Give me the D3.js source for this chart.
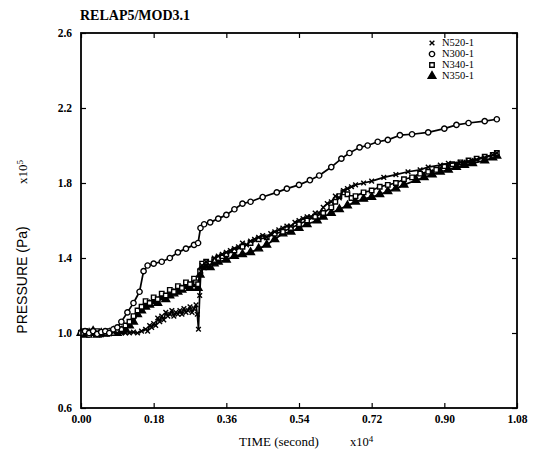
<!DOCTYPE html>
<html>
<head>
<meta charset="utf-8">
<script src="https://cdn.jsdelivr.net/npm/d3@7"></script>
<style>
  html, body { margin: 0; padding: 0; background: #fff; }
  svg { display: block; }
  text { fill: #000; }
</style>
</head>
<body>
<svg id="chart" width="533" height="466"></svg>
<script>
// Time in units of 1e4 s, pressure in units of 1e5 Pa
const xTicks = [0.00, 0.18, 0.36, 0.54, 0.72, 0.90, 1.08];
const yTicks = [0.6, 1.0, 1.4, 1.8, 2.2, 2.6];
const seriesNames = ["N520-1", "N300-1", "N340-1", "N350-1"];

const n520 = [
  [0,1.005],[0.01,0.995],[0.02,1.01],[0.03,0.995],[0.04,1.005],[0.05,0.99],[0.06,1.00],[0.07,0.995],
  [0.08,1.005],[0.09,1.00],[0.10,1.00],[0.11,1.00],[0.12,1.00],[0.13,1.005],[0.14,1.00],[0.15,1.01],
  [0.16,1.02],[0.165,1.01],[0.17,1.04],[0.175,1.03],[0.18,1.05],[0.185,1.04],[0.19,1.08],[0.195,1.06],
  [0.20,1.09],[0.205,1.07],[0.21,1.11],[0.215,1.09],[0.22,1.10],[0.225,1.12],[0.23,1.09],[0.235,1.11],
  [0.24,1.10],[0.245,1.12],[0.25,1.10],[0.255,1.13],[0.26,1.11],[0.265,1.12],[0.27,1.14],[0.275,1.11],
  [0.28,1.13],[0.285,1.15],[0.288,1.10],[0.291,1.02],[0.294,1.20],[0.297,1.33],[0.30,1.36],[0.31,1.38],
  [0.32,1.36],[0.33,1.40],[0.34,1.41],[0.35,1.42],[0.36,1.43],[0.37,1.44],[0.38,1.45],[0.39,1.46],
  [0.40,1.48],[0.41,1.47],[0.42,1.49],[0.43,1.50],[0.44,1.51],[0.45,1.52],[0.46,1.51],[0.47,1.53],
  [0.48,1.54],[0.49,1.55],[0.50,1.56],[0.51,1.57],[0.52,1.57],[0.53,1.59],[0.54,1.60],[0.55,1.61],
  [0.56,1.62],[0.57,1.62],[0.58,1.64],[0.59,1.64],[0.60,1.67],[0.61,1.69],[0.62,1.70],[0.63,1.73],
  [0.64,1.72],[0.65,1.76],[0.66,1.77],[0.67,1.78],[0.68,1.79],[0.70,1.80],[0.72,1.81],[0.75,1.83],
  [0.78,1.845],[0.81,1.86],[0.84,1.87],[0.86,1.885],[0.89,1.895],[0.91,1.905],[0.94,1.91],[0.96,1.915],
  [0.98,1.925],[1.00,1.935],[1.02,1.95],[1.03,1.96]
];

const n300 = [
  [0,1.00],[0.01,1.01],[0.02,1.00],[0.03,1.01],[0.04,0.995],[0.05,1.005],[0.06,1.01],[0.07,1.00],
  [0.08,1.02],[0.09,1.03],[0.10,1.06],[0.115,1.11],[0.13,1.16],[0.145,1.22],[0.155,1.33],[0.165,1.36],
  [0.18,1.37],[0.20,1.38],[0.22,1.40],[0.24,1.43],[0.26,1.45],[0.28,1.47],[0.29,1.48],[0.296,1.56],
  [0.305,1.58],[0.32,1.59],[0.34,1.61],[0.36,1.63],[0.38,1.66],[0.40,1.69],[0.42,1.70],[0.45,1.725],
  [0.485,1.75],[0.51,1.77],[0.54,1.79],[0.567,1.815],[0.59,1.84],[0.62,1.885],[0.645,1.93],[0.665,1.96],
  [0.69,1.99],[0.71,2.00],[0.735,2.02],[0.76,2.03],[0.79,2.055],[0.82,2.06],[0.86,2.07],[0.90,2.09],
  [0.93,2.11],[0.96,2.12],[1.00,2.13],[1.03,2.14]
];

const n340 = [
  [0,1.00],[0.01,1.01],[0.02,0.99],[0.03,1.00],[0.04,1.01],[0.05,0.995],[0.06,1.00],[0.07,1.01],
  [0.08,1.00],[0.09,1.01],[0.10,1.02],[0.11,1.04],[0.12,1.06],[0.13,1.09],[0.14,1.12],[0.15,1.14],
  [0.16,1.17],[0.17,1.16],[0.18,1.19],[0.19,1.18],[0.20,1.21],[0.21,1.20],[0.22,1.23],[0.23,1.22],
  [0.24,1.25],[0.25,1.24],[0.26,1.27],[0.27,1.26],[0.28,1.29],[0.285,1.27],[0.29,1.26],[0.295,1.33],
  [0.30,1.37],[0.31,1.38],[0.32,1.37],[0.33,1.39],[0.34,1.40],[0.35,1.41],[0.36,1.42],[0.38,1.44],
  [0.40,1.46],[0.42,1.48],[0.44,1.50],[0.46,1.51],[0.48,1.53],[0.50,1.54],[0.52,1.56],[0.54,1.58],
  [0.56,1.60],[0.58,1.62],[0.60,1.64],[0.62,1.67],[0.63,1.70],[0.64,1.73],[0.65,1.75],[0.66,1.74],
  [0.67,1.72],[0.68,1.73],[0.70,1.75],[0.72,1.76],[0.74,1.78],[0.76,1.79],[0.78,1.80],[0.80,1.82],
  [0.82,1.83],[0.84,1.85],[0.86,1.86],[0.88,1.87],[0.90,1.89],[0.92,1.90],[0.94,1.91],[0.96,1.92],
  [0.98,1.93],[1.00,1.94],[1.02,1.95],[1.03,1.96]
];

const n350 = [
  [0,1.00],[0.01,0.99],[0.02,1.00],[0.03,1.01],[0.04,0.99],[0.05,1.00],[0.06,0.995],[0.07,1.00],
  [0.08,1.01],[0.09,1.00],[0.10,1.01],[0.11,1.02],[0.12,1.04],[0.13,1.06],[0.14,1.10],[0.15,1.12],
  [0.16,1.14],[0.17,1.15],[0.18,1.17],[0.19,1.16],[0.20,1.19],[0.21,1.18],[0.22,1.20],[0.23,1.21],
  [0.24,1.22],[0.25,1.23],[0.26,1.25],[0.27,1.24],[0.28,1.27],[0.285,1.26],[0.29,1.24],[0.295,1.31],
  [0.30,1.35],[0.31,1.36],[0.32,1.35],[0.33,1.37],[0.34,1.38],[0.36,1.39],[0.38,1.41],[0.40,1.42],
  [0.42,1.43],[0.44,1.45],[0.46,1.47],[0.48,1.50],[0.50,1.53],[0.52,1.54],[0.54,1.56],[0.56,1.58],
  [0.585,1.60],[0.60,1.62],[0.62,1.64],[0.64,1.66],[0.66,1.68],[0.68,1.70],[0.70,1.715],[0.72,1.725],
  [0.74,1.74],[0.76,1.755],[0.78,1.77],[0.80,1.79],[0.83,1.815],[0.85,1.83],[0.87,1.845],[0.89,1.86],
  [0.91,1.87],[0.93,1.885],[0.95,1.895],[0.97,1.905],[1.00,1.92],[1.02,1.935],[1.03,1.945]
];

const svg = d3.select("#chart");
const margin = { left: 81, right: 16, top: 33, bottom: 58 };
const W = 533, H = 466;
const x = d3.scaleLinear().domain([0, 1.08]).range([margin.left, W - margin.right]);
const y = d3.scaleLinear().domain([0.6, 2.6]).range([H - margin.bottom, margin.top]);

const serif = "'Liberation Serif', 'Times New Roman', serif";
const sans = "'Liberation Sans', Arial, sans-serif";

// × marker as a custom symbol type
const symbolX = {
  draw(ctx, size) {
    const r = Math.sqrt(size) / 2;
    ctx.moveTo(-r, -r); ctx.lineTo(r, r);
    ctx.moveTo(r, -r); ctx.lineTo(-r, r);
  }
};

const styles = {
  "N520-1": { data: n520, type: symbolX, size: 22, fill: "none" },
  "N300-1": { data: n300, type: d3.symbolCircle, size: 22, fill: "#fff" },
  "N340-1": { data: n340, type: d3.symbolSquare, size: 20, fill: "#fff" },
  "N350-1": { data: n350, type: d3.symbolTriangle, size: 26, fill: "#000" }
};

// Axes: inward ticks on all four sides
const xAxisB = d3.axisBottom(x).tickValues(xTicks).tickFormat(d3.format(".2f"))
  .tickSizeInner(-5).tickSizeOuter(0).tickPadding(7);
const xAxisT = d3.axisTop(x).tickValues(xTicks).tickFormat("")
  .tickSizeInner(-5).tickSizeOuter(0);
const yAxisL = d3.axisLeft(y).tickValues(yTicks).tickFormat(d3.format(".1f"))
  .tickSizeInner(-5).tickSizeOuter(0).tickPadding(9);
const yAxisR = d3.axisRight(y).tickValues(yTicks).tickFormat("")
  .tickSizeInner(-5).tickSizeOuter(0);

function styleAxis(g) {
  g.select(".domain").remove();
  g.selectAll(".tick line").attr("stroke", "#000").attr("stroke-width", 1.2);
  g.selectAll(".tick text").attr("font-family", serif).attr("font-size", 11.5)
    .attr("font-weight", "bold").attr("fill", "#000");
}

svg.append("g").attr("transform", `translate(0,${y(0.6)})`).call(xAxisB).call(styleAxis);
svg.append("g").attr("transform", `translate(0,${y(2.6)})`).call(xAxisT).call(styleAxis);
svg.append("g").attr("transform", `translate(${x(0)},0)`).call(yAxisL).call(styleAxis);
svg.append("g").attr("transform", `translate(${x(1.08)},0)`).call(yAxisR).call(styleAxis);

// Curves
const line = d3.line().x(d => x(d[0])).y(d => y(d[1]));
const drawOrder = ["N350-1", "N340-1", "N520-1", "N300-1"];
drawOrder.forEach(name => {
  const s = styles[name];
  svg.append("path").datum(s.data).attr("d", line)
    .attr("fill", "none").attr("stroke", "#000").attr("stroke-width", 1.7)
    .attr("stroke-linejoin", "round");
  svg.append("g").selectAll("path").data(s.data).join("path")
    .attr("transform", d => `translate(${x(d[0])},${y(d[1])})`)
    .attr("d", d3.symbol().type(s.type).size(s.size))
    .attr("fill", s.fill).attr("stroke", "#000").attr("stroke-width", 1.4);
});

// Frame
svg.append("rect")
  .attr("x", x(0)).attr("y", y(2.6))
  .attr("width", x(1.08) - x(0)).attr("height", y(0.6) - y(2.6))
  .attr("fill", "none").attr("stroke", "#000").attr("stroke-width", 1.8);

// Legend
const legend = svg.append("g");
seriesNames.forEach((name, i) => {
  const s = styles[name];
  const ly = 43 + i * 11;
  legend.append("path")
    .attr("transform", `translate(432,${ly})`)
    .attr("d", d3.symbol().type(s.type).size(s.size))
    .attr("fill", s.fill).attr("stroke", "#000").attr("stroke-width", 1.4);
  legend.append("text").attr("x", 442).attr("y", ly).attr("dy", "0.33em")
    .attr("font-family", serif).attr("font-size", 10.5).text(name);
});

// Title
svg.append("text").attr("x", 80).attr("y", 20)
  .attr("font-family", serif).attr("font-size", 14).attr("font-weight", "bold")
  .text("RELAP5/MOD3.1");

// Axis titles
svg.append("text").attr("transform", "translate(27,280) rotate(-90)")
  .attr("text-anchor", "middle").attr("font-family", sans).attr("font-size", 14)
  .text("PRESSURE (Pa)");
const yMul = svg.append("text").attr("transform", "translate(27,172) rotate(-90)")
  .attr("text-anchor", "middle").attr("font-family", serif).attr("font-size", 13);
yMul.append("tspan").text("x10");
yMul.append("tspan").attr("dy", "-0.4em").attr("font-size", 9).text("5");

svg.append("text").attr("x", 279).attr("y", 446)
  .attr("text-anchor", "middle").attr("font-family", serif).attr("font-size", 13)
  .text("TIME (second)");
const xMul = svg.append("text").attr("x", 350).attr("y", 446)
  .attr("font-family", serif).attr("font-size", 12.5);
xMul.append("tspan").text("x10");
xMul.append("tspan").attr("dy", "-0.45em").attr("font-size", 9).text("4");
</script>
</body>
</html>
